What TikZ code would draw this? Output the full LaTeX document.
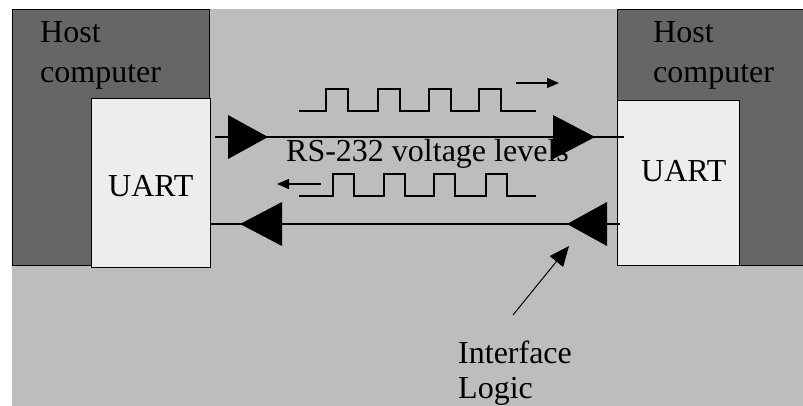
\documentclass[tikz,border=0pt]{standalone}
\usepackage{fontspec}
\setmainfont{Liberation Serif}
\usetikzlibrary{arrows.meta}
\definecolor{bggray}{HTML}{BDBDBD}
\definecolor{hostgray}{HTML}{666666}
\definecolor{uartgray}{HTML}{EDEDED}
\begin{document}
\begin{tikzpicture}[
  x=1pt, y=-1pt,
  host/.style={draw, line width=1.3pt, fill=hostgray, anchor=north west, inner sep=0pt},
  uart/.style={draw, line width=1.3pt, fill=uartgray, anchor=north west, inner sep=0pt},
  txt/.style={anchor=base west, inner sep=0pt, font=\fontsize{32}{40}\selectfont, align=left},
  wire/.style={line width=1.3pt},
  wave/.style={line width=1.3pt},
  tri/.style={fill=black},
  small/.style={line width=1.3pt, -{Triangle[length=12pt,width=10pt]}},
  ptr/.style={line width=1pt, -{Triangle[length=20pt,width=17pt]}}
]
\useasboundingbox (0,0) rectangle (803,406);
\fill[bggray] (12,9) rectangle (803,406);

% host computers and their UARTs
\node[host, minimum width=197pt, minimum height=256pt] (lhost) at (12,9) {};
\node[host, minimum width=192pt, minimum height=256pt] (rhost) at (617,9) {};
\node[uart, minimum width=119pt, minimum height=169pt] (luart) at (91,98) {};
\node[uart, minimum width=122pt, minimum height=165pt] (ruart) at (617,100) {};

\node[txt] (lhosttxt) at (40,83) {Host\\computer};
\node[txt] (rhosttxt) at (653,83) {Host\\computer};
\node[txt] (luarttxt) at (108,197) {UART};
\node[txt] (ruarttxt) at (641,182) {UART};

% transmit line
\coordinate (txa) at (215,137);
\coordinate (txb) at (624,137);
\draw[wire] (txa) -- (txb);
\fill[tri] (228,115) -- (268,137) -- (228,159) -- cycle;
\fill[tri] (553,115) -- (595,137) -- (553,159) -- cycle;

% receive line
\coordinate (rxa) at (620,224);
\coordinate (rxb) at (210,224);
\draw[wire] (rxa) -- (rxb);
\fill[tri] (282,202) -- (240,224) -- (282,246) -- cycle;
\fill[tri] (607,202) -- (567,224) -- (607,246) -- cycle;

\node[txt] (levels) at (286,162) {RS-232 voltage levels};

% pulse trains
\draw[wave] (299,111) \foreach \x in {326,378,429,479} {
  -- (\x,111) -- (\x,89) -- (\x+22,89) -- (\x+22,111)} -- (536,111);
\draw[wave] (299,196) \foreach \x in {333,384,434,486} {
  -- (\x,196) -- (\x,174) -- (\x+21,174) -- (\x+21,196)} -- (536,196);
\coordinate (dira) at (516,83);
\coordinate (dirb) at (559,83);
\draw[small] (dira) -- (dirb);
\coordinate (dirc) at (321,184);
\coordinate (dird) at (277,184);
\draw[small] (dirc) -- (dird);

% interface logic
\node[txt, font=\fontsize{32}{35}\selectfont] (ilogic) at (458,398) {Interface\\Logic};
\coordinate (itip) at (569,246);
\draw[ptr] (513,315) -- (itip);
\end{tikzpicture}
\end{document}
